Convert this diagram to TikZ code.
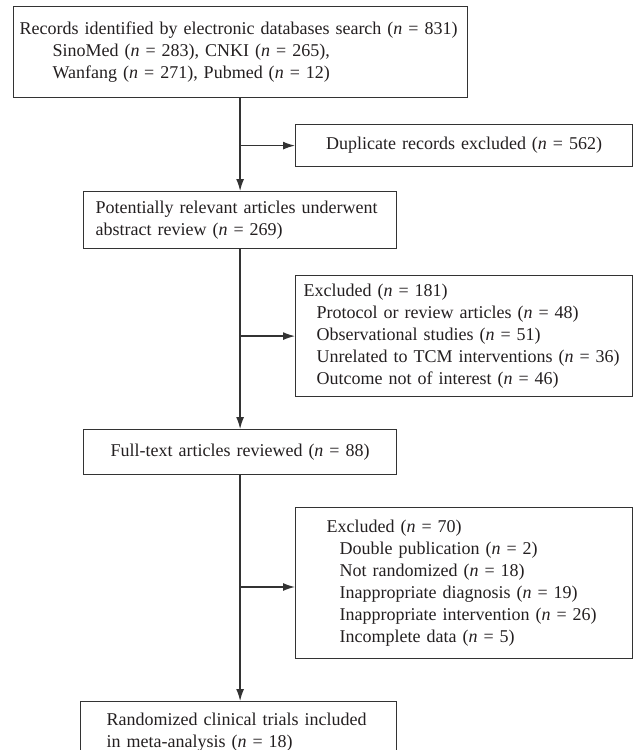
\documentclass[tikz,border=0pt]{standalone}
\usepackage{fontspec}
\setmainfont{Liberation Serif}
\usepackage{tikz}
\usetikzlibrary{arrows.meta}
\definecolor{Ink}{HTML}{231F20}
\definecolor{Rule}{HTML}{333333}
\tikzset{
  box/.style={draw=Rule,line width=0.6pt,anchor=north west,inner ysep=0pt,text=Ink,
    font=\fontsize{9}{11}\selectfont},
  arr/.style={-{Latex[length=6pt,width=4pt]},line width=0.65pt,draw=Rule},
}
\newcommand{\nn}{\textit{n}}

\begin{document}
\begin{tikzpicture}[x=0.5pt,y=-0.5pt]
\useasboundingbox (0,0) rectangle (633,750);
% main column
\node[box,minimum width=227pt,minimum height=45.5pt,inner xsep=3pt,text width=221pt,align=left] (rec) at (13,6)
  {Records identified by electronic databases search (\nn{} = 831)\\
   \hspace*{16.5pt}SinoMed (\nn{} = 283), CNKI (\nn{} = 265),\\
   \hspace*{16.5pt}Wanfang (\nn{} = 271), Pubmed (\nn{} = 12)};
\node[box,minimum width=156.5pt,minimum height=28.5pt,inner xsep=6pt,text width=144.5pt,align=left] (pot) at (83,191)
  {Potentially relevant articles underwent\\abstract review (\nn{} = 269)};
\node[box,minimum width=156.5pt,minimum height=22.5pt,inner xsep=4pt,text width=148.5pt,align=center] (full) at (83,429)
  {Full-text articles reviewed (\nn{} = 88)};
\node[box,minimum width=158pt,minimum height=31pt,inner xsep=13pt,text width=132pt,align=left] (incl) at (80,701)
  {Randomized clinical trials included\\in meta-analysis (\nn{} = 18)};
% exclusions
\node[box,minimum width=168.5pt,minimum height=21pt,inner xsep=4pt,text width=160.5pt,align=center] (dup) at (295,124)
  {Duplicate records excluded (\nn{} = 562)};
\node[box,minimum width=168.5pt,minimum height=60.5pt,inner xsep=4pt,text width=160.5pt,align=left] (exc1) at (295,275)
  {Excluded (\nn{} = 181)\\
   \hspace*{6.5pt}Protocol or review articles (\nn{} = 48)\\
   \hspace*{6.5pt}Observational studies (\nn{} = 51)\\
   \hspace*{6.5pt}Unrelated to TCM interventions (\nn{} = 36)\\
   \hspace*{6.5pt}Outcome not of interest (\nn{} = 46)};
\node[box,minimum width=168.5pt,minimum height=75.5pt,inner xsep=15.5pt,text width=137.5pt,align=left] (exc2) at (295,507)
  {Excluded (\nn{} = 70)\\
   \hspace*{6.5pt}Double publication (\nn{} = 2)\\
   \hspace*{6.5pt}Not randomized (\nn{} = 18)\\
   \hspace*{6.5pt}Inappropriate diagnosis (\nn{} = 19)\\
   \hspace*{6.5pt}Inappropriate intervention (\nn{} = 26)\\
   \hspace*{6.5pt}Incomplete data (\nn{} = 5)};
% connectors
\coordinate (j3) at (239.5,587);
\draw[arr] (rec.south -| pot.north) -- (pot.north);
\draw[arr] (dup.west -| pot.north) -- (dup.west);
\draw[arr] (pot.south) -- (full.north);
\draw[arr] (exc1.west -| pot.south) -- (exc1.west);
\draw[arr] (full.south) -- (full.south |- incl.north);
\draw[arr] (j3) -- (j3 -| exc2.west);
\end{tikzpicture}
\end{document}
